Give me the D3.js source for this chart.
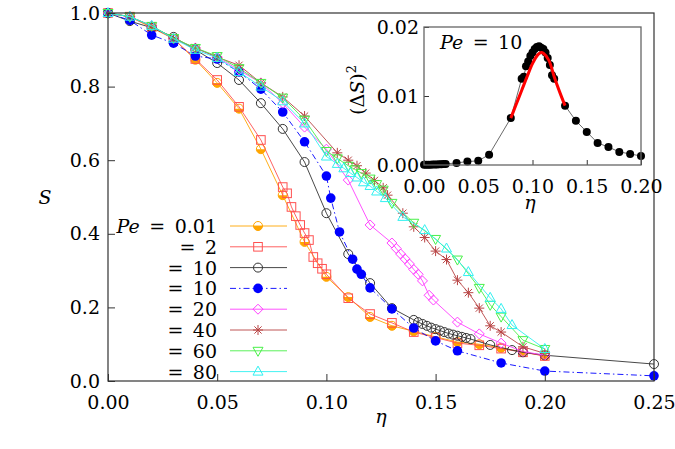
<!DOCTYPE html>
<html>
<head>
<meta charset="utf-8">
<script src="https://cdn.jsdelivr.net/npm/d3@7"></script>
<style>
body { margin: 0; background: #fff; }
</style>
</head>
<body>
<script>
// Valores (S vs eta para distintos Pe)

const eta001 = [0, 0.01, 0.02, 0.03, 0.04, 0.05, 0.06, 0.07, 0.08, 0.09, 0.10, 0.11, 0.12, 0.13, 0.14, 0.15, 0.16, 0.17, 0.18, 0.19, 0.20];
const s001 = [1.0, 0.99, 0.96, 0.93, 0.873, 0.81, 0.74, 0.63, 0.505, 0.378, 0.283, 0.228, 0.174, 0.15, 0.135, 0.12, 0.106, 0.10, 0.09, 0.079, 0.068];

const eta2 = [0, 0.01, 0.02, 0.03, 0.04, 0.05, 0.06, 0.07, 0.08, 0.082, 0.084, 0.086, 0.088, 0.09, 0.092, 0.094, 0.096, 0.098, 0.10, 0.11, 0.12, 0.13, 0.14, 0.15, 0.16, 0.17, 0.18, 0.19, 0.20];
const s2 = [1.0, 0.99, 0.962, 0.93, 0.875, 0.818, 0.745, 0.655, 0.527, 0.51, 0.473, 0.448, 0.424, 0.402, 0.383, 0.337, 0.32, 0.305, 0.29, 0.225, 0.182, 0.158, 0.133, 0.118, 0.103, 0.097, 0.088, 0.078, 0.068];

const eta10a = [0, 0.01, 0.02, 0.03, 0.04, 0.05, 0.06, 0.07, 0.08, 0.09, 0.10, 0.11, 0.12, 0.13, 0.14, 0.142, 0.144, 0.146, 0.148, 0.15, 0.152, 0.154, 0.156, 0.158, 0.16, 0.162, 0.164, 0.166, 0.175, 0.185, 0.19, 0.20, 0.25];
const s10a = [1.0, 0.978, 0.96, 0.935, 0.9, 0.864, 0.818, 0.755, 0.685, 0.595, 0.456, 0.345, 0.266, 0.198, 0.166, 0.16, 0.155, 0.15, 0.145, 0.141, 0.137, 0.133, 0.129, 0.126, 0.123, 0.12, 0.117, 0.114, 0.098, 0.084, 0.078, 0.07, 0.046];

const eta10b = [0, 0.01, 0.02, 0.03, 0.04, 0.05, 0.06, 0.07, 0.08, 0.09, 0.10, 0.102, 0.106, 0.112, 0.114, 0.116, 0.12, 0.13, 0.14, 0.15, 0.16, 0.18, 0.20, 0.25];
const s10b = [1.0, 0.98, 0.94, 0.918, 0.883, 0.875, 0.84, 0.793, 0.731, 0.65, 0.557, 0.497, 0.405, 0.331, 0.304, 0.29, 0.253, 0.196, 0.144, 0.109, 0.082, 0.049, 0.027, 0.014];

const eta20 = [0, 0.01, 0.02, 0.03, 0.04, 0.05, 0.06, 0.07, 0.08, 0.09, 0.10, 0.11, 0.12, 0.13, 0.132, 0.134, 0.136, 0.138, 0.14, 0.142, 0.144, 0.147, 0.149, 0.16, 0.17, 0.18, 0.19, 0.20];
const s20 = [1.0, 0.99, 0.965, 0.93, 0.905, 0.88, 0.845, 0.81, 0.755, 0.69, 0.63, 0.546, 0.424, 0.375, 0.36, 0.345, 0.332, 0.318, 0.303, 0.29, 0.272, 0.233, 0.22, 0.16, 0.128, 0.103, 0.08, 0.07];

const eta40 = [0, 0.01, 0.02, 0.03, 0.04, 0.05, 0.06, 0.07, 0.08, 0.09, 0.105, 0.11, 0.114, 0.118, 0.122, 0.126, 0.128, 0.135, 0.14, 0.145, 0.15, 0.155, 0.16, 0.165, 0.17, 0.175, 0.18, 0.19, 0.20];
const s40 = [1.0, 0.99, 0.965, 0.93, 0.905, 0.88, 0.858, 0.81, 0.772, 0.72, 0.62, 0.6, 0.585, 0.565, 0.545, 0.525, 0.505, 0.456, 0.419, 0.39, 0.353, 0.33, 0.274, 0.24, 0.198, 0.15, 0.133, 0.093, 0.075];

const eta60 = [0, 0.01, 0.02, 0.03, 0.04, 0.05, 0.06, 0.07, 0.08, 0.09, 0.10, 0.105, 0.11, 0.113, 0.116, 0.12, 0.123, 0.126, 0.13, 0.14, 0.15, 0.16, 0.17, 0.175, 0.18, 0.19, 0.20];
const s60 = [1.0, 0.99, 0.965, 0.932, 0.905, 0.883, 0.85, 0.81, 0.77, 0.71, 0.625, 0.605, 0.585, 0.575, 0.565, 0.55, 0.535, 0.52, 0.484, 0.43, 0.386, 0.33, 0.253, 0.207, 0.175, 0.111, 0.087];

const eta80 = [0, 0.01, 0.02, 0.03, 0.04, 0.05, 0.06, 0.07, 0.08, 0.09, 0.10, 0.105, 0.108, 0.111, 0.114, 0.117, 0.12, 0.123, 0.127, 0.135, 0.145, 0.155, 0.165, 0.175, 0.18, 0.185, 0.20];
const s80 = [1.0, 0.99, 0.965, 0.93, 0.9, 0.878, 0.84, 0.8, 0.76, 0.7, 0.61, 0.59, 0.578, 0.565, 0.553, 0.54, 0.53, 0.515, 0.497, 0.446, 0.41, 0.36, 0.296, 0.226, 0.196, 0.152, 0.087];

// Inset: fluctuaciones (Delta S)^2 para Pe = 10 y el ajuste en rojo
const etaInset = [0, 0.002, 0.004, 0.006, 0.008, 0.01, 0.012, 0.014, 0.016, 0.018, 0.02, 0.03, 0.04, 0.05, 0.06, 0.08, 0.09, 0.092, 0.094, 0.096, 0.098, 0.1, 0.102, 0.104, 0.106, 0.108, 0.11, 0.112, 0.114, 0.116, 0.118, 0.12, 0.13, 0.14, 0.15, 0.16, 0.17, 0.18, 0.19, 0.2];
const varInset = [0.00002, 0.00003, 0.00004, 0.00005, 0.00006, 0.00007, 0.00008, 0.0001, 0.00012, 0.00014, 0.00016, 0.0003, 0.0005, 0.0006, 0.0015, 0.0068, 0.0125, 0.0128, 0.0143, 0.015, 0.0158, 0.0163, 0.0168, 0.0171, 0.0172, 0.017, 0.0168, 0.0163, 0.0155, 0.0145, 0.013, 0.0125, 0.0086, 0.0064, 0.0048, 0.0032, 0.0026, 0.0019, 0.0016, 0.0013];
const etaFit = [0.08, 0.085, 0.09, 0.095, 0.1, 0.105, 0.108, 0.11, 0.115, 0.12, 0.125, 0.13];
const varFit = [0.0068, 0.0088, 0.0108, 0.0128, 0.0147, 0.016, 0.0163, 0.0162, 0.0152, 0.0128, 0.0106, 0.0086];

const xTicks = [0, 0.05, 0.10, 0.15, 0.20, 0.25];
const yTicks = [0, 0.2, 0.4, 0.6, 0.8, 1.0];
const xTicksInset = [0, 0.05, 0.10, 0.15, 0.20];
const yTicksInset = [0, 0.01, 0.02];

const legendLabels = ['= 0.01', '= 2', '= 10', '= 10', '= 20', '= 40', '= 60', '= 80'];

const series = [
    {eta: eta001, s: s001, color: '#ffa500', marker: 'halfcircle'},
    {eta: eta2, s: s2, color: '#ff5050', marker: 'square'},
    {eta: eta10a, s: s10a, color: '#333333', marker: 'circle'},
    {eta: eta10b, s: s10b, color: '#0000ff', marker: 'dot', dash: '6,3,1.5,3'},
    {eta: eta20, s: s20, color: '#ff40ff', marker: 'diamond'},
    {eta: eta40, s: s40, color: '#b84444', marker: 'star'},
    {eta: eta60, s: s60, color: '#48f048', marker: 'tridown'},
    {eta: eta80, s: s80, color: '#30f0f0', marker: 'triup'}
];

const WIDTH = 675, HEIGHT = 449;
const FONT = 19;
const SERIF = "'DejaVu Serif', 'Noto Serif', serif";

const svg = d3.select('body')
    .append('svg')
        .attr('width', WIDTH)
        .attr('height', HEIGHT)
        .attr('font-family', SERIF);

svg.append('rect').attr('width', WIDTH).attr('height', HEIGHT).attr('fill', '#fff');

const xScale = d3.scaleLinear().domain([0, 0.25]).range([108, 654]);
const yScale = d3.scaleLinear().domain([0, 1]).range([381, 13]);

// Dibuja un marcador centrado en (0,0) dentro del grupo g
const drawMarker = (g, type, color) => {
    const r = 4.5;
    if (type === 'circle') {
        g.append('circle').attr('r', r).attr('fill', 'none').attr('stroke', color);
    } else if (type === 'halfcircle') {
        g.append('path').attr('d', `M${-r},0 A${r},${r} 0 0 0 ${r},0 Z`).attr('fill', color);
        g.append('circle').attr('r', r).attr('fill', 'none').attr('stroke', color);
    } else if (type === 'dot') {
        g.append('circle').attr('r', 4.8).attr('fill', color);
    } else if (type === 'square') {
        g.append('rect').attr('x', -4.3).attr('y', -4.3).attr('width', 8.6).attr('height', 8.6)
            .attr('fill', 'none').attr('stroke', color);
    } else if (type === 'diamond') {
        g.append('path').attr('d', 'M0,-5L5,0L0,5L-5,0Z').attr('fill', 'none').attr('stroke', color);
    } else if (type === 'star') {
        g.append('path').attr('d', 'M-5,0L5,0M0,-5L0,5M-3.6,-3.6L3.6,3.6M-3.6,3.6L3.6,-3.6')
            .attr('stroke', color);
    } else if (type === 'triup') {
        g.append('path').attr('d', 'M0,-5.5L5,3.5L-5,3.5Z').attr('fill', 'none').attr('stroke', color);
    } else if (type === 'tridown') {
        g.append('path').attr('d', 'M0,5.5L5,-3.5L-5,-3.5Z').attr('fill', 'none').attr('stroke', color);
    }
};

const line = d3.line().x(d => xScale(d[0])).y(d => yScale(d[1]));

// Series principales
series.forEach(ser => {
    const pts = d3.zip(ser.eta, ser.s);
    const g = svg.append('g').attr('class', 'serie');
    g.append('path')
        .datum(pts)
        .attr('d', line)
        .attr('fill', 'none')
        .attr('stroke', ser.color)
        .attr('stroke-width', 0.9)
        .attr('stroke-dasharray', ser.dash || null);
    g.selectAll('.pt')
        .data(pts)
        .enter().append('g')
            .attr('class', 'pt')
            .attr('transform', d => `translate(${xScale(d[0])},${yScale(d[1])})`)
            .each(function() { drawMarker(d3.select(this), ser.marker, ser.color); });
});

// Ejes (ticks hacia adentro)
const xAxis = d3.axisBottom(xScale).tickValues(xTicks).tickFormat(d3.format('.2f'))
    .tickSizeInner(-7).tickSizeOuter(0).tickPadding(15);
const yAxis = d3.axisLeft(yScale).tickValues(yTicks).tickFormat(d3.format('.1f'))
    .tickSizeInner(-7).tickSizeOuter(0).tickPadding(8);

svg.append('g')
    .attr('class', 'axis axis--x')
    .attr('transform', 'translate(0,381)')
    .call(xAxis);

svg.append('g')
    .attr('class', 'axis axis--y')
    .attr('transform', 'translate(108,0)')
    .call(yAxis);

svg.append('rect')
    .attr('x', 108).attr('y', 13).attr('width', 546).attr('height', 368)
    .attr('fill', 'none').attr('stroke', '#333').attr('stroke-width', 1.2);

svg.append('text').attr('x', 381).attr('y', 423).attr('text-anchor', 'middle')
    .attr('font-style', 'italic').attr('font-size', FONT).text('η');
svg.append('text').attr('x', 45).attr('y', 204).attr('text-anchor', 'middle')
    .attr('font-style', 'italic').attr('font-size', FONT).text('S');

// Leyenda
const legend = svg.selectAll('.legend')
    .data(series)
    .enter().append('g')
        .attr('class', 'legend')
        .attr('transform', (d, i) => `translate(0,${226 + i * 20.8})`);

legend.append('line')
    .attr('x1', 230).attr('x2', 287)
    .attr('stroke', d => d.color)
    .attr('stroke-width', 0.9)
    .attr('stroke-dasharray', d => d.dash || null);

legend.append('g')
    .attr('transform', 'translate(258,0)')
    .each(function(d) { drawMarker(d3.select(this), d.marker, d.color); });

legend.append('text')
    .attr('x', 217).attr('y', 7)
    .attr('text-anchor', 'end')
    .attr('font-size', FONT)
    .each(function(d, i) {
        const t = d3.select(this);
        if (i === 0) t.append('tspan').attr('font-style', 'italic').text('Pe');
        t.append('tspan').text((i === 0 ? '\u2002' : '') + legendLabels[i].replace(' ', '\u2002'));
    });

// Inset
const xIn = d3.scaleLinear().domain([0, 0.2]).range([424, 641]);
const yIn = d3.scaleLinear().domain([0, 0.02]).range([165, 27]);

svg.append('rect')
    .attr('x', 424).attr('y', 27).attr('width', 217).attr('height', 138)
    .attr('fill', '#fff');

const xAxisIn = d3.axisBottom(xIn).tickValues(xTicksInset).tickFormat(d3.format('.2f'))
    .tickSizeInner(-5).tickSizeOuter(0).tickPadding(15);
const yAxisIn = d3.axisLeft(yIn).tickValues(yTicksInset).tickFormat(d3.format('.2f'))
    .tickSizeInner(-5).tickSizeOuter(0).tickPadding(5);

svg.append('g').attr('class', 'axis axis--xin').attr('transform', 'translate(0,165)').call(xAxisIn);
svg.append('g').attr('class', 'axis axis--yin').attr('transform', 'translate(424,0)').call(yAxisIn);

const lineIn = d3.line().x(d => xIn(d[0])).y(d => yIn(d[1]));
const ptsIn = d3.zip(etaInset, varInset);

svg.append('path').datum(ptsIn).attr('d', lineIn)
    .attr('fill', 'none').attr('stroke', '#444').attr('stroke-width', 0.8);

svg.selectAll('.ptin')
    .data(ptsIn)
    .enter().append('circle')
        .attr('class', 'ptin')
        .attr('cx', d => xIn(d[0]))
        .attr('cy', d => yIn(d[1]))
        .attr('r', 4)
        .attr('fill', '#000');

svg.append('path')
    .datum(d3.zip(etaFit, varFit))
    .attr('d', lineIn.curve(d3.curveCatmullRom))
    .attr('fill', 'none').attr('stroke', '#f00').attr('stroke-width', 3);

svg.append('rect')
    .attr('x', 424).attr('y', 27).attr('width', 217).attr('height', 138)
    .attr('fill', 'none').attr('stroke', '#666').attr('stroke-width', 1.3);

svg.append('text').attr('x', 440).attr('y', 49).attr('font-size', FONT)
    .call(t => {
        t.append('tspan').attr('font-style', 'italic').text('Pe');
        t.append('tspan').text('\u2002=\u200210');
    });

svg.append('text').attr('x', 530).attr('y', 209).attr('text-anchor', 'middle')
    .attr('font-style', 'italic').attr('font-size', FONT).text('η');

svg.append('text')
    .attr('transform', 'translate(364,90) rotate(-90)')
    .attr('text-anchor', 'middle')
    .attr('font-size', FONT)
    .call(t => {
        t.append('tspan').text('(Δ');
        t.append('tspan').attr('font-style', 'italic').text('S');
        t.append('tspan').text(')');
        t.append('tspan').attr('font-size', 13).attr('dy', -8).text('2');
    });

// Estilo de los ejes
svg.selectAll('.axis').attr('font-family', SERIF);
svg.selectAll('.axis .domain').remove();
svg.selectAll('.axis .tick line').attr('stroke', '#333');
svg.selectAll('.axis .tick text').attr('font-size', FONT).attr('fill', '#000');
</script>
</body>
</html>
